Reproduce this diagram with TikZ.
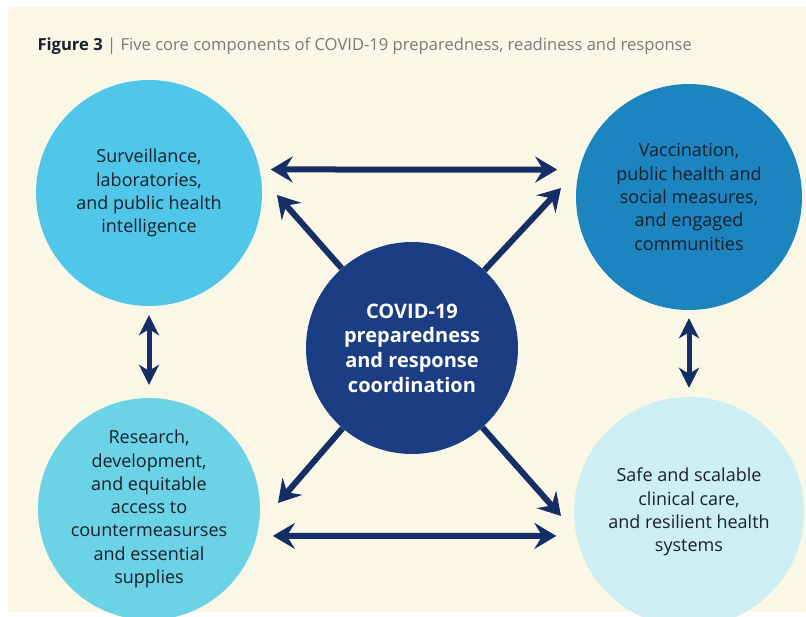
\documentclass[tikz,border=0pt]{standalone}
\usepackage{fontspec}
\setmainfont{Open Sans}
\usetikzlibrary{arrows.meta,positioning}
\definecolor{paper}{HTML}{FBF7E6}
\definecolor{survblue}{HTML}{50C6E9}
\definecolor{vaccblue}{HTML}{1C84BF}
\definecolor{rndblue}{HTML}{6CD2E6}
\definecolor{careblue}{HTML}{CDEFF3}
\definecolor{hubblue}{HTML}{1B3D84}
\definecolor{arrowblue}{HTML}{152E66}
\definecolor{textdark}{HTML}{18202B}
\definecolor{titlegray}{HTML}{7A7A78}
\tikzset{
  part/.style={circle, minimum size=226pt, inner sep=0pt, align=center,
    text=textdark, font=\fontsize{18}{23.3}\selectfont},
  hub/.style={circle, minimum size=212pt, inner sep=0pt, align=center,
    fill=hubblue, text=white, font=\fontsize{20}{24.7}\selectfont\bfseries},
  link/.style={draw=arrowblue, line width=6pt,
    {Stealth[length=22pt,width=26pt,inset=8pt]}-{Stealth[length=22pt,width=26pt,inset=8pt]}},
  linkup/.style={draw=arrowblue, line width=5pt,
    {Stealth[length=20pt,width=20pt,inset=6pt]}-{Stealth[length=20pt,width=20pt,inset=6pt]}},
  spoke/.style={draw=arrowblue, line width=6pt, -{Stealth[length=22pt,width=26pt,inset=8pt]}}
}
\begin{document}
\begin{tikzpicture}[x=1pt,y=-1pt]
      \useasboundingbox (0,0) rectangle (806,617);
      \fill[white] (0,0) rectangle (806,617);
      \fill[paper] (8,7) rectangle (806,612);
      % title
      \draw (34,51) node[anchor=base west, font=\fontsize{16.6}{19}\selectfont] (title)
        {\textbf{\color{textdark}Figure 3} {\color{titlegray}| Five core components of COVID-19 preparedness, readiness and response}};
      % components
      \draw (149,193) node[part, fill=survblue] (surv)
        {Surveillance,\\laboratories,\\and public health\\intelligence};
      \draw (689,197) node[part, fill=vaccblue] (vacc)
        {Vaccination,\\public health and\\social measures,\\and engaged\\communities};
      \draw (149,509) node[part, fill=rndblue, minimum size=222pt] (rnd)
        {Research,\\development,\\and equitable\\access to\\countermeasurses\\and essential\\supplies};
      \draw (689,512) node[part, fill=careblue, minimum size=230pt] (care)
        {Safe and scalable\\clinical care,\\and resilient health\\systems};
      % coordination
      \draw (412,348) node[hub] (coord)
        {COVID-19\\preparedness\\and response\\coordination};
      % links between components
      \draw[link, shorten <=11pt, shorten >=22pt] (surv.12) -- (vacc.166);
      \draw[link, shorten <=16pt, shorten >=20pt] (rnd.-14) -- (care.192);
      \draw[linkup, shorten <=9pt, shorten >=13pt] (surv) -- (rnd);
      \draw[linkup, shorten <=8pt, shorten >=9pt] (vacc) -- (care);
      % spokes
      \coordinate (survTip) at (277,195);
      \coordinate (vaccTip) at (561,188);
      \coordinate (rndTip) at (278,503);
      \coordinate (careTip) at (561,516);
      \draw[spoke] (coord) -- (survTip);
      \draw[spoke] (coord) -- (vaccTip);
      \draw[spoke] (coord) -- (rndTip);
      \draw[spoke] (coord) -- (careTip);
\end{tikzpicture}
\end{document}
